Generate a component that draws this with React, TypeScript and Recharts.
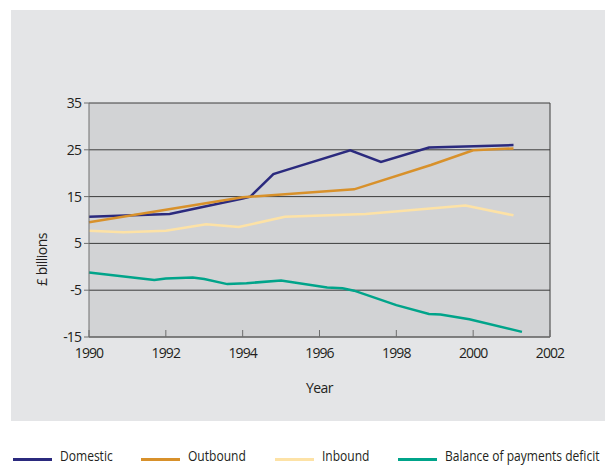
import { LineChart, Line, XAxis, YAxis, CartesianGrid, ReferenceLine } from 'recharts';

// values (£ billions), x = year position on the axis
const domesticYears = [1990, 1992.1, 1994.0, 1994.2, 1994.8, 1995.15, 1996.8, 1997.6, 1998.85, 2001.05];
const domesticValues = [10.7, 11.3, 14.6, 15.0, 19.8, 20.7, 24.9, 22.4, 25.5, 26.0];

const outboundYears = [1990, 1994.0, 1996.9, 1998.9, 2000.0, 2001.05];
const outboundValues = [9.5, 14.85, 16.55, 21.75, 24.9, 25.3];

const inboundYears = [1990, 1990.9, 1992.0, 1993.05, 1993.9, 1995.1, 1997.2, 1999.8, 2001.05];
const inboundValues = [7.7, 7.4, 7.7, 9.1, 8.5, 10.7, 11.3, 13.1, 11.0];

const deficitYears = [1990, 1991.7, 1992.0, 1992.7, 1993.0, 1993.6, 1994.1, 1995.0, 1996.2, 1996.6, 1996.9, 1998.0, 1998.85, 1999.15, 1999.9, 2001.27];
const deficitValues = [-1.2, -2.8, -2.5, -2.3, -2.6, -3.7, -3.5, -2.95, -4.4, -4.6, -5.1, -8.2, -10.1, -10.2, -11.2, -13.9];

const xTicks = [1990, 1992, 1994, 1996, 1998, 2000, 2002];
const yTicks = [-15, -5, 5, 15, 25, 35];

const toPoints = (years: number[], values: number[]) => years.map((year, i) => ({ year, value: values[i] }));

const SERIES = [
  { name: 'Domestic', color: '#2b2a7e', data: toPoints(domesticYears, domesticValues) },
  { name: 'Outbound', color: '#d8912b', data: toPoints(outboundYears, outboundValues) },
  { name: 'Inbound', color: '#fde2a6', data: toPoints(inboundYears, inboundValues) },
  { name: 'Balance of payments deficit', color: '#00a48a', data: toPoints(deficitYears, deficitValues) },
];

// legend slots (line start, text start) as in the original layout
const LEGEND_X = [[13, 60], [141, 188], [275, 322], [398, 445]];

const FONT = '"Open Sans", sans-serif';
const TEXT = '#231f20';

// x ticks point up into the plot, labels below the axis
const XTick = (props: any) => {
  const { x, y, payload } = props;
  return (
    <g>
      <line x1={x} x2={x} y1={y} y2={y - 7} stroke="#6e6e6e" strokeWidth={1} />
      <text x={x} y={y + 21} textAnchor="middle" fill={TEXT} fontSize={14} fontFamily={FONT} letterSpacing={-0.9}>{payload.value}</text>
    </g>
  );
};

export default function App() {
  return (
    <div style={{ position: 'absolute', left: 0, top: 0, width: 605, height: 465, background: '#fff', overflow: 'hidden', fontFamily: FONT }}>
      <div style={{ position: 'absolute', left: 11, top: 10, width: 594, height: 411, background: '#e4e5e7' }} />
      <div style={{ position: 'absolute', left: 0, top: 0 }}>
        <LineChart width={605} height={465} margin={{ top: 103, right: 55, left: 29, bottom: 98 }}>
          <CartesianGrid vertical={false} stroke="#3c3c3c" fill="#d2d3d5" fillOpacity={1} />
          <XAxis
            dataKey="year"
            type="number"
            domain={[1990, 2002]}
            ticks={xTicks}
            allowDuplicatedCategory={false}
            stroke="#6e6e6e"
            tickSize={0}
            tickMargin={0}
            height={30}
            tick={<XTick />}
            label={{ value: 'Year', position: 'insideBottom', offset: -26, fill: TEXT, fontSize: 14, fontFamily: FONT, letterSpacing: -0.5 }}
          />
          <YAxis
            type="number"
            domain={[-15, 35]}
            ticks={yTicks}
            stroke="#6e6e6e"
            width={60}
            tickSize={5}
            tickMargin={3}
            tick={{ fill: TEXT, fontSize: 14, fontFamily: FONT, letterSpacing: -0.9 }}
            label={{ value: '£ billions', angle: -90, position: 'insideLeft', offset: 13, dy: 66, fill: TEXT, fontSize: 14, fontFamily: FONT, letterSpacing: -0.5 }}
          />
          <ReferenceLine x={2002} stroke="#3c3c3c" />
          {SERIES.map((s) => (
            <Line
              key={s.name}
              data={s.data}
              dataKey="value"
              name={s.name}
              type="linear"
              stroke={s.color}
              strokeWidth={2.5}
              dot={false}
              activeDot={false}
              isAnimationActive={false}
            />
          ))}
        </LineChart>
      </div>
      {SERIES.map((s, i) => (
        <div key={s.name}>
          <span style={{ position: 'absolute', left: LEGEND_X[i][0], top: 458, width: 39, height: 2.5, background: s.color }} />
          <span style={{ position: 'absolute', left: LEGEND_X[i][1], top: 448, fontSize: 14, lineHeight: '16px', color: TEXT, whiteSpace: 'nowrap', transform: 'scaleX(0.86)', transformOrigin: 'left center' }}>{s.name}</span>
        </div>
      ))}
    </div>
  );
}
